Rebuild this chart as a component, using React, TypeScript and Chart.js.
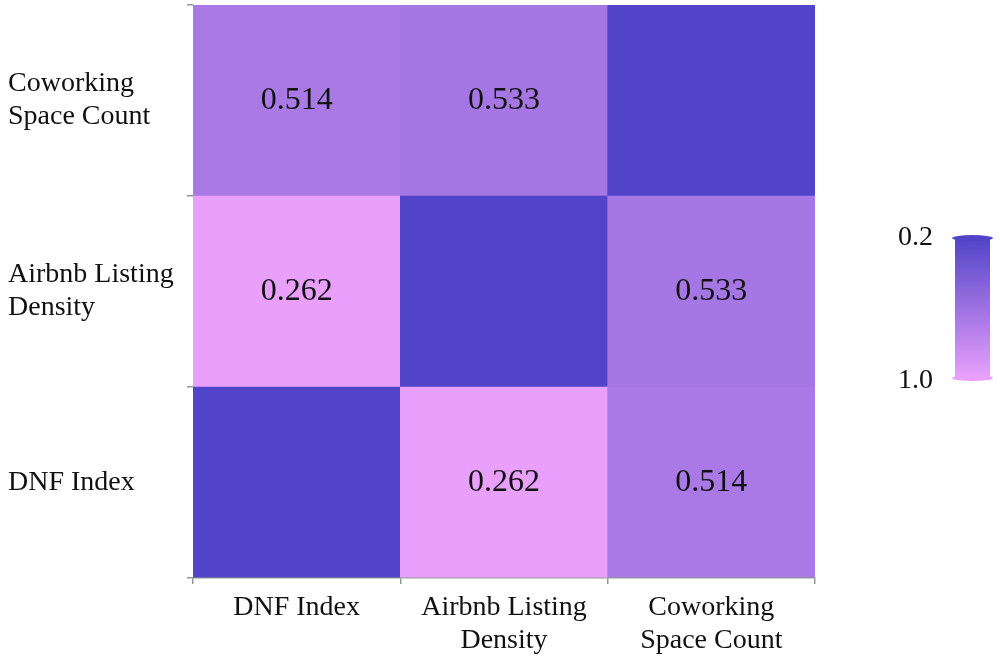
import React, { useEffect, useRef } from 'react';
import { Chart, registerables } from 'chart.js';

Chart.register(...registerables);

// Column categories (x axis, left to right)
const xCategories: string[][] = [['DNF Index'], ['Airbnb Listing', 'Density'], ['Coworking', 'Space Count']];
// Row categories (y axis, bottom to top)
const yCategories: string[][] = [['DNF Index'], ['Airbnb Listing', 'Density'], ['Coworking', 'Space Count']];

// Correlation values per row (bottom to top), columns left to right
const rowDNF = [1, 0.262, 0.514];
const rowAirbnb = [0.262, 1, 0.533];
const rowCoworking = [0.514, 0.533, 1];
const rows = [rowDNF, rowAirbnb, rowCoworking];

// Colour bar tick labels (top, bottom)
const colorbarTicks = ['0.2', '1.0'];

const PINK = [232, 160, 252];
const BLUE = [82, 68, 200];
const LOW = 0.262;

function colorFor(v: number): string {
  const t = Math.pow(Math.max(0, Math.min(1, (v - LOW) / (1 - LOW))), 0.8);
  const c = PINK.map((p, i) => Math.round(p + (BLUE[i] - p) * t));
  return `rgb(${c[0]},${c[1]},${c[2]})`;
}

const FONT = '"Liberation Serif", "Times New Roman", serif';
const AXIS_COLOR = '#8e9a8e';

const valueLabelPlugin = {
  id: 'valueLabels',
  afterDatasetsDraw(chart: any) {
    const ctx = chart.ctx;
    ctx.save();
    ctx.font = `32px ${FONT}`;
    ctx.fillStyle = '#111';
    ctx.textAlign = 'center';
    ctx.textBaseline = 'middle';
    chart.data.datasets.forEach((ds: any, di: number) => {
      const meta = chart.getDatasetMeta(di);
      meta.data.forEach((el: any, i: number) => {
        const v = ds.values[i];
        if (v === 1) return;
        const cy = (el.y + el.base) / 2;
        ctx.fillText(v.toFixed(3), el.x, cy);
      });
    });
    ctx.restore();
  },
};

const colorbarPlugin = {
  id: 'colorbar',
  afterDraw(chart: any) {
    const ctx = chart.ctx;
    const x = chart.width - 45;
    const w = 35;
    const top = 238;
    const bottom = 378;
    ctx.save();
    const g = ctx.createLinearGradient(0, top, 0, bottom);
    g.addColorStop(0, colorFor(1));
    g.addColorStop(1, colorFor(LOW));
    ctx.fillStyle = g;
    ctx.fillRect(x, top, w, bottom - top);
    // caps
    ctx.fillStyle = colorFor(1);
    ctx.beginPath();
    ctx.ellipse(x + w / 2, top, w / 2 + 3, 3, 0, 0, Math.PI * 2);
    ctx.fill();
    ctx.fillStyle = colorFor(LOW);
    ctx.beginPath();
    ctx.ellipse(x + w / 2, bottom, w / 2 + 3, 3, 0, 0, Math.PI * 2);
    ctx.fill();
    ctx.font = `28px ${FONT}`;
    ctx.fillStyle = '#111';
    ctx.textAlign = 'right';
    ctx.textBaseline = 'middle';
    ctx.fillText(colorbarTicks[0], x - 22, top);
    ctx.fillText(colorbarTicks[1], x - 22, bottom + 3);
    ctx.restore();
  },
};

export default function App() {
  const ref = useRef<HTMLCanvasElement>(null);

  useEffect(() => {
    if (!ref.current) return;
    const datasets = rows.map((vals, r) => ({
      label: yCategories[r].join(' '),
      data: vals.map(() => [r, r + 1] as [number, number]),
      values: vals,
      backgroundColor: vals.map(colorFor),
      borderWidth: 0,
      grouped: false,
      barPercentage: 1,
      categoryPercentage: 1,
    }));

    const chart = new Chart(ref.current, {
      type: 'bar',
      data: { labels: xCategories as any, datasets: datasets as any },
      plugins: [valueLabelPlugin, colorbarPlugin],
      options: {
        animation: false,
        responsive: true,
        maintainAspectRatio: false,
        layout: { padding: { left: 8, top: 5, right: 185, bottom: 0 } },
        plugins: { legend: { display: false }, tooltip: { enabled: false } },
        scales: {
          x: {
            type: 'category',
            offset: true,
            grid: { offset: true, drawOnChartArea: false, tickLength: 6, color: AXIS_COLOR, lineWidth: 1.5 },
            border: { color: AXIS_COLOR, width: 1.5 },
            ticks: {
              font: { family: FONT, size: 28, lineHeight: 1.18 },
              color: '#111',
              padding: 7,
              maxRotation: 0,
              autoSkip: false,
            },
            afterFit(scale: any) {
              scale.height = 81;
            },
          },
          y: {
            type: 'linear',
            min: 0,
            max: 3,
            grid: {
              drawOnChartArea: false,
              tickLength: 6,
              lineWidth: 1.5,
              color: (c: any) => (c.tick && c.tick.value % 1 === 0 ? AXIS_COLOR : 'rgba(0,0,0,0)'),
            },
            border: { display: false },
            ticks: {
              stepSize: 0.5,
              autoSkip: false,
              crossAlign: 'far',
              font: { family: FONT, size: 28, lineHeight: 1.18 },
              color: '#111',
              callback: (v: any) => (Math.abs((v as number) % 1 - 0.5) < 1e-6 ? yCategories[Math.floor(v as number)] : ''),
            },
            afterFit(scale: any) {
              scale.width = 185;
              scale.paddingTop = 0;
              scale.paddingBottom = 0;
            },
          },
        },
      } as any,
    });
    return () => chart.destroy();
  }, []);

  return (
    <div style={{ position: 'fixed', left: 0, top: 0, width: 1000, height: 659, background: '#fff' }}>
      <canvas ref={ref} />
    </div>
  );
}
